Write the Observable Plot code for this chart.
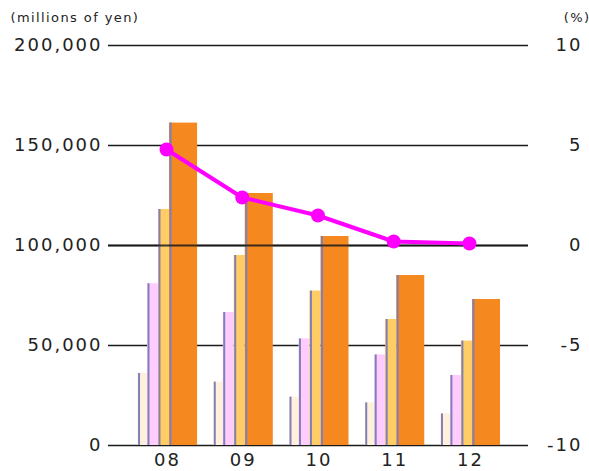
<!DOCTYPE html>
<html><head><meta charset="utf-8">
<script src="https://cdn.jsdelivr.net/npm/d3@7"></script>
<script src="https://cdn.jsdelivr.net/npm/@observablehq/plot@0.6"></script>
<style>
body{margin:0;background:#fff;font-family:"DejaVu Sans",sans-serif}
#chart g[aria-label$="tick label"] text{letter-spacing:2px}
#chart g[aria-label="text"] text{letter-spacing:1.4px}
</style>
</head><body><div id="chart"></div>
<script>
// ---- data ----
const years = ["08", "09", "10", "11", "12"];
const series1 = [36000, 31700, 24200, 21300, 15800];   // cream
const series2 = [80900, 66500, 53300, 45300, 35000];   // pink
const series3 = [118000, 95000, 77200, 63000, 52200];  // yellow
const series4 = [161200, 126000, 104500, 85000, 73000]; // orange
const ratioPct = [4.8, 2.4, 1.5, 0.2, 0.1];
const leftTicks = [0, 50000, 100000, 150000, 200000];
const rightTickLabels = ["-10", "-5", "0", "5", "10"];
const leftUnit = "(millions of yen)";
const rightUnit = "(%)";

// ---- layout (styling) ----
const slots = [
  {vals: series1, a: -0.376, b: -0.251, fill: "#fff0dc"},
  {vals: series2, a: -0.251, b: -0.106, fill: "#ffccff"},
  {vals: series3, a: -0.106, b: 0.04, fill: "#ffcc66"},
  {vals: series4, a: 0.04, b: 0.41, fill: "#f5881f"}
];
const bars = [];
slots.forEach((s, k) => years.forEach((yr, i) => bars.push({i, k, x1: i + s.a, x2: i + s.b, v: s.vals[i], fill: s.fill})));
const line = years.map((yr, i) => ({i, pct: ratioPct[i]}));
// right axis (%) shares the left scale: -10%..10% spans 0..200,000
const pctToY = p => 100000 + p * 10000;

const chart = Plot.plot({
  width: 589, height: 471,
  marginTop: 45, marginBottom: 26, marginLeft: 108, marginRight: 61,
  style: {fontFamily: "DejaVu Sans, sans-serif", color: "#222", background: "#fff"},
  x: {type: "linear", domain: [-0.766, 4.78]},
  y: {domain: [0, 200000]},
  marks: [
    Plot.gridY(leftTicks, {stroke: "#1a1a1a", strokeOpacity: 1, strokeWidth: 1.6}),
    Plot.rectY(bars, {x1: "x1", x2: "x2", y1: 0, y2: "v", fill: d => d.fill, inset: 0}),
    Plot.ruleX(bars, {x: "x1", y1: 0, y2: "v", stroke: "#8080b8", strokeWidth: 2, dx: 1}),
    Plot.ruleY([100000], {stroke: "#1a1a1a", strokeWidth: 2, strokeOpacity: 0.85}),
    Plot.line(line, {x: "i", y: d => pctToY(d.pct), stroke: "#ff00ff", strokeWidth: 4}),
    Plot.dot(line, {x: "i", y: d => pctToY(d.pct), r: 7, fill: "#ff00ff"}),
    Plot.axisY(leftTicks, {anchor: "left", tickSize: 0, tickPadding: 6, tickFormat: d3.format(","), fontSize: 18, label: null}),
    Plot.axisY(leftTicks, {anchor: "right", tickSize: 0, tickPadding: 54, textAnchor: "end", tickFormat: (d) => rightTickLabels[leftTicks.indexOf(d)], fontSize: 18, label: null}),
    Plot.axisX(years.map((y, i) => i), {anchor: "bottom", tickSize: 0, tickPadding: 8, dx: 1, tickFormat: i => years[i], fontSize: 18, label: null}),
    Plot.text([leftUnit], {frameAnchor: "top-left", dx: -98, dy: -33, textAnchor: "start", fontSize: 13, fill: "#222"}),
    Plot.text([rightUnit], {frameAnchor: "top-right", dx: 62, dy: -33, textAnchor: "end", fontSize: 13, fill: "#222"})
  ]
});
document.getElementById("chart").appendChild(chart);
</script>
</body></html>
